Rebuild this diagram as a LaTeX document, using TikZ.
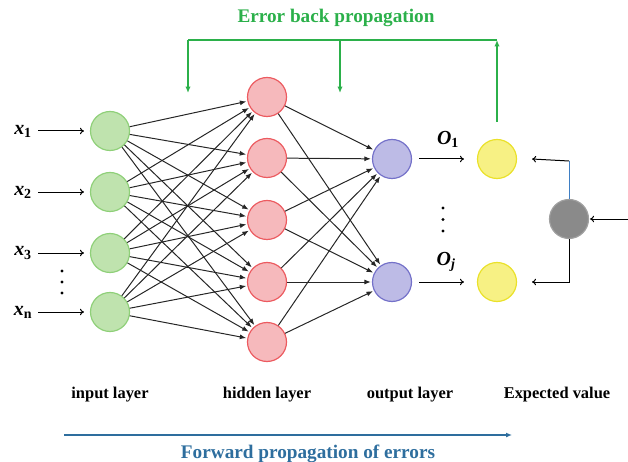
\documentclass[tikz,border=0pt]{standalone}
\usepackage{fontspec}
\setmainfont{Liberation Serif}
\usetikzlibrary{arrows.meta}
\definecolor{inFill}{HTML}{BFE3AE}
\definecolor{inDraw}{HTML}{8FD079}
\definecolor{hidFill}{HTML}{F6B9BC}
\definecolor{hidDraw}{HTML}{EC5B60}
\definecolor{outFill}{HTML}{BDBBE6}
\definecolor{outDraw}{HTML}{7471C9}
\definecolor{expFill}{HTML}{F7F184}
\definecolor{expDraw}{HTML}{EAE12A}
\definecolor{sumFill}{HTML}{8A8A8A}
\definecolor{sumDraw}{HTML}{A0A0A0}
\definecolor{backGreen}{HTML}{2BB04A}
\definecolor{fwdBlue}{HTML}{2E6E9E}
\definecolor{thinBlue}{HTML}{3F7FC4}
\tikzset{
  neuron/.style={circle, minimum size=39bp, inner sep=0pt, line width=1.2pt},
  innode/.style={neuron, fill=inFill, draw=inDraw},
  hidnode/.style={neuron, fill=hidFill, draw=hidDraw},
  outnode/.style={neuron, fill=outFill, draw=outDraw},
  expnode/.style={neuron, fill=expFill, draw=expDraw},
  sumnode/.style={neuron, fill=sumFill, draw=sumDraw},
  wire/.style={line width=1pt, draw=black!85, -{Latex[length=6.5pt,width=5pt]}, shorten >=1pt},
  feed/.style={line width=1pt, -{To[length=4pt,width=6.5pt]}},
  lbl/.style={font=\bfseries\fontsize{16.5}{19}\selectfont, inner sep=0pt},
  xlbl/.style={font=\bfseries\fontsize{20}{22}\selectfont, inner sep=0pt},
  back/.style={draw=backGreen, line width=1.7pt},
  backtip/.style={-{Latex[length=6.5pt,width=5.5pt]}},
  title/.style={font=\bfseries\fontsize{19.3}{22}\selectfont, inner sep=0pt},
  dot/.style={circle, fill=black, inner sep=0pt, minimum size=3.4pt}
}
\begin{document}
\begin{tikzpicture}[x=1bp, y=-1bp]
\useasboundingbox (0,0) rectangle (628,462);

% input layer
\foreach \i/\y in {1/131, 2/192, 3/253, 4/312}
  \node[innode] (in\i) at (110,\y) {};
% hidden layer
\foreach \i/\y in {1/97, 2/158, 3/220, 4/282, 5/342}
  \node[hidnode] (h\i) at (267,\y) {};
% output layer
\node[outnode] (o1) at (392,159) {};
\node[outnode] (o2) at (392,282) {};
% expected values
\node[expnode] (e1) at (497,159) {};
\node[expnode] (e2) at (497,282) {};
% comparison node
\node[sumnode] (s) at (569,219) {};

% fully connected weights
\foreach \i in {1,...,4}
  \foreach \j in {1,...,5}
    \draw[wire] (in\i) -- (h\j);
\foreach \j in {1,...,5}
  \foreach \k in {1,2}
    \draw[wire] (h\j) -- (o\k);

% inputs
\node[xlbl] (x1) at (23,131) {\textit{x}\textsubscript{1}};
\node[xlbl] (x2) at (23,192) {\textit{x}\textsubscript{2}};
\node[xlbl] (x3) at (23,253) {\textit{x}\textsubscript{3}};
\node[xlbl] (xn) at (23,312) {\textit{x}\textsubscript{n}};
\coordinate (a1) at (38,131);
\coordinate (a2) at (38,192);
\coordinate (a3) at (38,253);
\coordinate (a4) at (38,312);
\foreach \i in {1,...,4}
  \draw[feed, shorten >=6pt] (a\i) -- (in\i);
\node[dot] (d1) at (62,271) {};
\node[dot] (d2) at (62,282) {};
\node[dot] (d3) at (62,293) {};

% outputs to expected values
\draw[feed] ([xshift=7pt]o1.east) -- ([xshift=-13pt]e1.west);
\draw[feed] ([xshift=7pt]o2.east) -- ([xshift=-13pt]e2.west);
\node[xlbl] (O1) at (448,139) {\textit{O}\textsubscript{1}};
\node[xlbl] (Oj) at (446,262) {\textit{O\textsubscript{j}}};
\node[dot] (d4) at (443,208) {};
\node[dot] (d5) at (443,219.5) {};
\node[dot] (d6) at (443,231) {};

% expected value feed
\coordinate (src) at (628,219);
\draw[feed] (src) -- ([xshift=1pt]s.east);
\coordinate (st) at (569,161);
\draw[thinBlue, line width=0.8pt] (s.north) -- (st);
\draw[feed] (st) -- ([xshift=15pt]e1.east);
\draw[feed] (s.south) |- ([xshift=15pt]e2.east);

% error back propagation
\coordinate (bl) at (188,40);
\coordinate (bm) at (340,40);
\coordinate (br) at (497,40);
\draw[back, backtip] ([yshift=17pt]e1.north) -- (br);
\draw[back] (bl) -- (br);
\draw[back, backtip] (bl) -- (188,93);
\draw[back, backtip] (bm) -- (340,93);
\node[title, text=backGreen] (bt) at (336,18) {Error back propagation};

% layer captions
\node[lbl] (l1) at (110,395) {input layer};
\node[lbl] (l2) at (267,395) {hidden layer};
\node[lbl] (l3) at (410,395) {output layer};
\node[lbl] (l4) at (557,395) {Expected value};

% forward direction
\coordinate (f1) at (64,435);
\coordinate (f2) at (512,435);
\draw[fwdBlue, line width=1.6pt, -{Latex[length=6pt,width=5pt]}] (f1) -- (f2);
\node[title, text=fwdBlue] (ft) at (308,454) {Forward propagation of errors};
\end{tikzpicture}
\end{document}
